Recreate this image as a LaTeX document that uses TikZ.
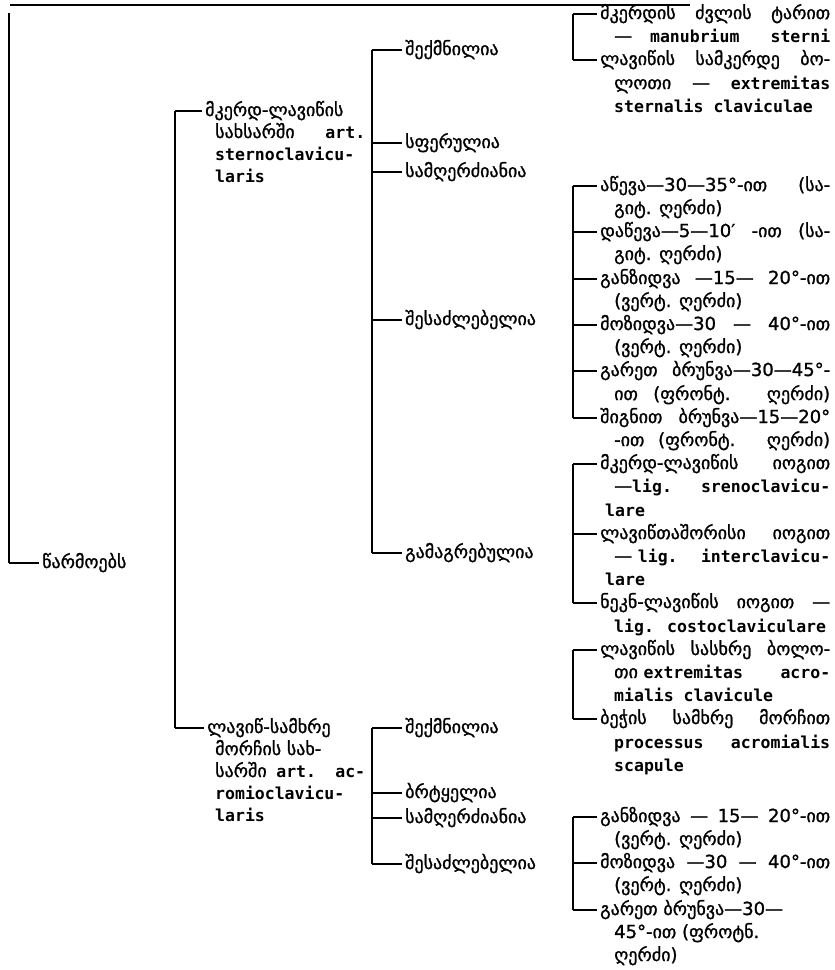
\documentclass[tikz,border=0pt]{standalone}
\usepackage{fontspec}
\setmainfont{DejaVu Sans}[FakeBold=1.2,AutoFakeBold=1.2]
\newfontfamily\latfam{DejaVu Sans Mono}
\newcommand\lat[1]{{\latfam\bfseries\fontsize{16.5}{20}\selectfont #1}}
\newcommand\J[2]{\makebox[#1pt][s]{#2}}
\newcommand\tx[4]{\node[txt] (#1) at (#2,#3+5) {#4};}
\newcommand\cn[3]{\coordinate (#1) at (#2,#3);}
\newcommand\dsh[2]{\draw[dashline] (#1) -- (#1 -| #2.west);}
\begin{document}
\begin{tikzpicture}[x=1pt,y=-1pt,
 txt/.style={anchor=base west,inner sep=0pt,font=\fontsize{18}{22}\selectfont},
 brk/.style={line width=1.4pt},
 dashline/.style={line width=1.3pt,shorten >=3pt}]
\useasboundingbox (0,0) rectangle (835,970);

% top rule
\cn{ra}{10}{5} \cn{rb}{690}{5}
\draw[line width=1.5pt] (ra) -- (rb);

% level 1
\cn{p0}{9}{13} \cn{p1}{9}{563}
\draw[brk] (p0) -- (p1);
\tx{root}{42}{563}{წარმოებს}
\dsh{p1}{root}

% level 2
\cn{q0}{175}{111} \cn{q1}{175}{728}
\draw[brk] (q0) -- (q1);
\tx{sc}{205}{111}{მკერდ-ლავიწის}
\tx{scb}{215}{133}{\J{150}{სახსარში \lat{art.}}}
\tx{scc}{215}{155}{\lat{sternoclavicu-}}
\tx{scd}{215}{177}{\lat{laris}}
\dsh{q0}{sc}
\tx{ac}{207}{728}{ლავიწ-სამხრე}
\tx{acb}{215}{750}{მორჩის სახ-}
\tx{acc}{215}{772}{\J{150}{სარში \lat{art.} \lat{ac-}}}
\tx{acd}{215}{794}{\lat{romioclavicu-}}
\tx{ace}{215}{816}{\lat{laris}}
\dsh{q1}{ac}

% level 3, first joint
\cn{m0}{372}{50} \cn{m1}{372}{143} \cn{m2}{372}{172} \cn{m3}{372}{320} \cn{m4}{372}{553}
\draw[brk] (m0) -- (m4);
\tx{ma}{405}{50}{შექმნილია}
\tx{mb}{405}{143}{სფერულია}
\tx{mc}{405}{172}{სამღერძიანია}
\tx{md}{405}{320}{შესაძლებელია}
\tx{me}{405}{553}{გამაგრებულია}
\dsh{m0}{ma} \dsh{m1}{mb} \dsh{m2}{mc} \dsh{m3}{md} \dsh{m4}{me}

% level 3, second joint
\cn{n0}{372}{728} \cn{n1}{372}{793} \cn{n2}{372}{818} \cn{n3}{372}{864}
\draw[brk] (n0) -- (n3);
\tx{na}{405}{728}{შექმნილია}
\tx{nb}{405}{793}{ბრტყელია}
\tx{nc}{405}{818}{სამღერძიანია}
\tx{nd}{405}{864}{შესაძლებელია}
\dsh{n0}{na} \dsh{n1}{nb} \dsh{n2}{nc} \dsh{n3}{nd}

% level 4, group A
\cn{a0}{573}{14} \cn{a1}{573}{60}
\draw[brk] (a0) -- (a1);
\tx{aa}{600}{14}{\J{230}{მკერდის ძვლის ტარით}}
\tx{aab}{614}{37}{\J{216}{— \lat{manubrium sterni}}}
\tx{ab}{600}{60}{\J{230}{ლავიწის სამკერდე ბო-}}
\tx{abb}{614}{84}{\J{216}{ლოთი — \lat{extremitas}}}
\tx{abc}{614}{107}{\lat{sternalis claviculae}}
\dsh{a0}{aa} \dsh{a1}{ab}

% level 4, group B
\cn{b0}{573}{186} \cn{b1}{573}{232} \cn{b2}{573}{279} \cn{b3}{573}{325} \cn{b4}{573}{371} \cn{b5}{573}{418}
\draw[brk] (b0) -- (b5);
\tx{ba}{600}{186}{\J{230}{აწევა—30—35°-ით (სა-}}
\tx{bab}{614}{209}{გიტ. ღერძი)}
\tx{bb}{600}{232}{\J{230}{დაწევა—5—10′ -ით (სა-}}
\tx{bbb}{614}{255}{გიტ. ღერძი)}
\tx{bc}{600}{279}{\J{230}{განზიდვა —15— 20°-ით}}
\tx{bcb}{614}{302}{(ვერტ. ღერძი)}
\tx{bd}{600}{325}{\J{230}{მოზიდვა—30 — 40°-ით}}
\tx{bdb}{614}{348}{(ვერტ. ღერძი)}
\tx{be}{600}{371}{\J{230}{გარეთ ბრუნვა—30—45°-}}
\tx{beb}{614}{395}{\J{216}{ით (ფრონტ. ღერძი)}}
\tx{bf}{600}{418}{\J{230}{შიგნით ბრუნვა—15—20°}}
\tx{bfb}{614}{441}{\J{216}{-ით (ფრონტ. ღერძი)}}
\dsh{b0}{ba} \dsh{b1}{bb} \dsh{b2}{bc} \dsh{b3}{bd} \dsh{b4}{be} \dsh{b5}{bf}

% level 4, group C
\cn{c0}{573}{464} \cn{c1}{573}{534} \cn{c2}{573}{603}
\draw[brk] (c0) -- (c2);
\tx{ca}{600}{464}{\J{230}{მკერდ-ლავიწის იოგით}}
\tx{cab}{614}{487}{\J{216}{—\lat{lig.\hfill srenoclavicu-}}}
\tx{cac}{605}{511}{\lat{lare}}
\tx{cb}{600}{534}{\J{230}{ლავიწთაშორისი იოგით}}
\tx{cbb}{614}{557}{\J{216}{— \lat{lig.\hfill interclavicu-}}}
\tx{cbc}{605}{580}{\lat{lare}}
\tx{cc}{600}{603}{\J{230}{ნეკნ-ლავიწის იოგით —}}
\tx{ccb}{614}{627}{\lat{lig. costoclaviculare}}
\dsh{c0}{ca} \dsh{c1}{cb} \dsh{c2}{cc}

% level 4, group D
\cn{d0}{573}{650} \cn{d1}{573}{719}
\draw[brk] (d0) -- (d1);
\tx{da}{600}{650}{\J{230}{ლავიწის სასხრე ბოლო-}}
\tx{dab}{614}{673}{\J{216}{თი \lat{extremitas\hfill acro-}}}
\tx{dac}{614}{696}{\lat{mialis clavicule}}
\tx{db}{600}{719}{\J{230}{ბეჭის სამხრე მორჩით}}
\tx{dbb}{614}{743}{\J{216}{\lat{processus\hfill acromialis}}}
\tx{dbc}{614}{766}{\lat{scapule}}
\dsh{d0}{da} \dsh{d1}{db}

% level 4, group E
\cn{e0}{573}{817} \cn{e1}{573}{863} \cn{e2}{573}{910}
\draw[brk] (e0) -- (e2);
\tx{ea}{600}{817}{\J{230}{განზიდვა — 15— 20°-ით}}
\tx{eab}{614}{840}{(ვერტ. ღერძი)}
\tx{eb}{600}{863}{\J{230}{მოზიდვა —30 — 40°-ით}}
\tx{ebb}{614}{886}{(ვერტ. ღერძი)}
\tx{ec}{600}{910}{გარეთ ბრუნვა—30—}
\tx{ecb}{614}{933}{45°-ით (ფროტნ.}
\tx{ecc}{614}{956}{ღერძი)}
\dsh{e0}{ea} \dsh{e1}{eb} \dsh{e2}{ec}
\end{tikzpicture}
\end{document}
